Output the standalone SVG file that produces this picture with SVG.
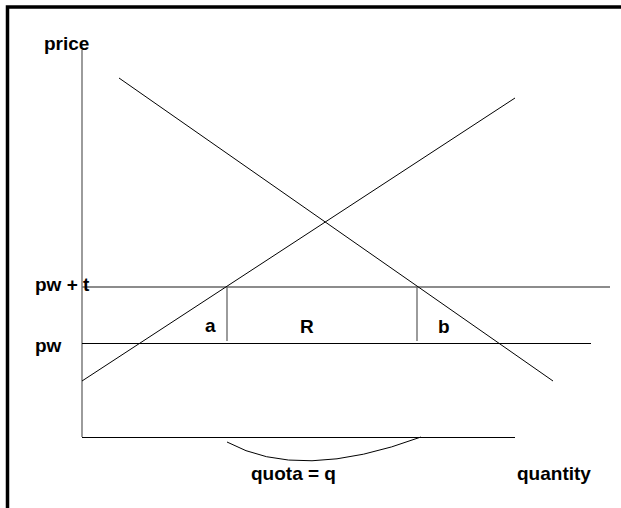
<svg xmlns="http://www.w3.org/2000/svg" width="621" height="508" viewBox="0 0 621 508">
<style>
text{font-family:"Liberation Sans",Arial,sans-serif;font-weight:bold;font-size:19px;fill:#000}
.k{stroke:#000;stroke-width:1;fill:none}
.g{stroke:#666;stroke-width:1.3;fill:none}
</style>
<rect width="621" height="508" fill="#fff"/>
<rect x="7.5" y="7" width="700" height="600" fill="none" stroke="#000" stroke-width="3.5"/>
<g id="connectors">
<line class="g" x1="82" y1="50" x2="82" y2="437"/>
<line class="k" x1="82" y1="437.5" x2="515" y2="437.5"/>
<line class="g" x1="82" y1="287" x2="610" y2="287"/>
<line class="k" x1="82" y1="343.5" x2="591" y2="343.5"/>
<line class="k" x1="82" y1="381" x2="515" y2="98"/>
<line class="k" x1="119" y1="78" x2="553" y2="381"/>
<line class="g" x1="227" y1="287" x2="227" y2="341"/>
<line class="g" x1="417" y1="287" x2="417" y2="341"/>
<path class="k" d="M227,442 Q300,482 421,437"/>
</g>
<g id="labels">
<text x="44" y="50">price</text>
<text x="35" y="291">pw + t</text>
<text x="35" y="352">pw</text>
<text x="205" y="332">a</text>
<text x="300" y="333">R</text>
<text x="438" y="333">b</text>
<text x="251" y="480">quota = q</text>
<text x="517" y="480">quantity</text>
</g>
</svg>
